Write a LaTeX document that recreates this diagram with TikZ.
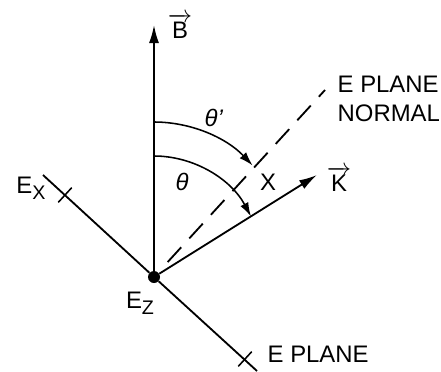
\documentclass[tikz,border=0pt]{standalone}
\usepackage{amsmath}
\usepackage{fontspec}
\setmainfont{Liberation Sans}
\usetikzlibrary{arrows.meta}

\newcommand{\lowx}[1]{\raisebox{-0.45ex}{\fontsize{14}{14}\selectfont #1}}

\begin{document}
\begin{tikzpicture}[x=0.025cm, y=0.025cm,
    axisline/.style={line width=1.3pt},
    vecarrow/.style={-{Latex[length=0.45cm, width=0.25cm]}, line width=1.3pt},
    anglearrow/.style={-{Latex[length=0.35cm, width=0.22cm]}, line width=1.1pt},
    normalline/.style={line width=1.3pt, dash pattern=on 0.5cm off 0.3cm},
    tickmark/.style={line width=1.1pt},
    lbl/.style={font=\fontsize{17}{21}\selectfont, inner sep=1pt, align=left},
  ]
    \useasboundingbox (0,0) rectangle (441,371);
    \node[circle, fill, inner sep=0pt, minimum size=0.3cm] (O) at (154,94) {};
    \coordinate (Btip) at (154,346);
    \coordinate (Ktip) at (317,196);
    \coordinate (Nend) at (325,281);
    \coordinate (Xend) at (43,196);
    \coordinate (Pend) at (257,0);
    \coordinate (XTick) at (65,176);
    \coordinate (PTick) at (245,12);
    \draw[vecarrow] (O) -- (Btip);
    \draw[vecarrow] (O) -- (Ktip);
    \draw[normalline, shorten <=0.35cm] (O) -- (Nend);
    \draw[axisline] (Xend) -- (O) -- (Pend);
    \draw[tickmark] ([shift={(47.6:10)}]XTick) -- ([shift={(227.6:10)}]XTick);
    \draw[tickmark] ([shift={(47.6:10)}]PTick) -- ([shift={(227.6:10)}]PTick);
    \draw[anglearrow] (154,249) arc[start angle=90, end angle=46, x radius=142, y radius=155];
    \draw[anglearrow] (154,215) arc[start angle=90, end angle=30, x radius=112, y radius=121];
    \node[lbl] (Blbl) at (180,345) {$\overrightarrow{\text{B}}$};
    \node[lbl] (Klbl) at (339,192) {$\overrightarrow{\text{K}}$};
    \node[lbl] (Exlbl) at (31,183) {E\lowx{X}};
    \node[lbl] (Ezlbl) at (140,68) {E\lowx{Z}};
    \node[lbl, anchor=west] (plane) at (266,17) {E PLANE};
    \node[lbl, anchor=west] (normal) at (336,272) {E PLANE\\NORMAL};
    \node[lbl] (thp) at (214,253) {\textit{θ'}};
    \node[lbl] (th) at (182,189) {\textit{θ}};
    \node[lbl] (xlbl) at (268,189) {X};
  \end{tikzpicture}
\end{document}
